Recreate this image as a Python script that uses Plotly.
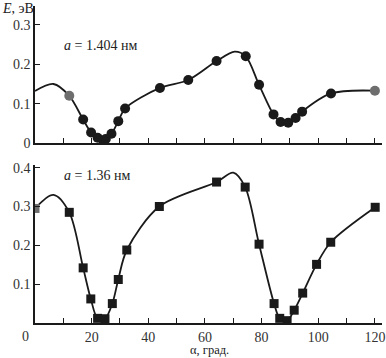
import plotly.graph_objects as go
from plotly.subplots import make_subplots

# ---- data ----
top_x = [12.1, 17.0, 19.8, 22.1, 24.2, 25.0, 27.0, 29.4, 31.8, 44.1, 54.1, 64.1, 74.4,
         79.1, 84.2, 86.7, 89.4, 92.0, 94.3, 104.5, 120.0]
top_y = [0.120, 0.060, 0.027, 0.014, 0.005, 0.011, 0.024, 0.056, 0.088, 0.140, 0.160, 0.208, 0.220,
         0.148, 0.073, 0.054, 0.052, 0.064, 0.080, 0.126, 0.133]
top_curve_extra_x = [0.0, 6.5, 70.5]
top_curve_extra_y = [0.132, 0.150, 0.232]

bot_x = [0.0, 12.1, 17.0, 19.7, 22.1, 24.7, 27.3, 29.4, 32.4, 43.9, 64.1, 74.2, 79.1,
         84.4, 86.4, 89.0, 91.5, 94.5, 99.4, 104.4, 120.1]
bot_y = [0.295, 0.285, 0.142, 0.062, 0.012, 0.011, 0.050, 0.112, 0.188, 0.300, 0.363, 0.350, 0.203,
         0.050, 0.012, 0.006, 0.033, 0.077, 0.151, 0.208, 0.298]
bot_curve_extra_x = [6.5, 70.0]
bot_curve_extra_y = [0.330, 0.387]

top_gray = [0, len(top_x) - 1]
bot_gray = [0]

x_tick_vals = [20, 40, 60, 80, 100, 120]
top_y_ticks = [0, 0.1, 0.2, 0.3]
bot_y_ticks = [0.1, 0.2, 0.3, 0.4]

FONT = "Liberation Serif"
INK = "#1a1a1a"


def merged(xs, ys, ex, ey):
    pts = sorted(list(zip(xs, ys)) + list(zip(ex, ey)))
    return [p[0] for p in pts], [p[1] for p in pts]


fig = make_subplots(rows=2, cols=1, shared_xaxes=False, vertical_spacing=0.0)

cx, cy = merged(top_x, top_y, top_curve_extra_x, top_curve_extra_y)
fig.add_trace(go.Scatter(x=cx, y=cy, mode="lines", line=dict(color=INK, width=1.8, shape="spline", smoothing=0.9),
                         hoverinfo="skip", showlegend=False), row=1, col=1)
fig.add_trace(go.Scatter(x=top_x, y=top_y, mode="markers",
                         marker=dict(symbol="circle", size=10,
                                     color=["#6e6e6e" if i in top_gray else INK for i in range(len(top_x))]),
                         showlegend=False), row=1, col=1)

cx, cy = merged(bot_x, bot_y, bot_curve_extra_x, bot_curve_extra_y)
fig.add_trace(go.Scatter(x=cx, y=cy, mode="lines", line=dict(color=INK, width=1.8, shape="spline", smoothing=0.9),
                         hoverinfo="skip", showlegend=False), row=2, col=1)
fig.add_trace(go.Scatter(x=bot_x, y=bot_y, mode="markers",
                         marker=dict(symbol="square", size=9,
                                     color=["#6e6e6e" if i in bot_gray else INK for i in range(len(bot_x))]),
                         showlegend=False), row=2, col=1)

axis_common = dict(showline=True, linecolor=INK, linewidth=1.5, showgrid=False, zeroline=False,
                   ticks="inside", tickcolor=INK, tickwidth=1.3, ticklen=5,
                   tickfont=dict(family=FONT, size=14, color="#333"))

fig.update_xaxes(range=[0, 122.5], tickvals=list(range(10, 121, 10)), showticklabels=False,
                 **axis_common, row=1, col=1)
fig.update_xaxes(range=[0, 122.5], tickvals=x_tick_vals,
                 minor=dict(tickvals=list(range(10, 121, 20)), ticks="inside", ticklen=5, tickcolor=INK),
                 **axis_common, row=2, col=1)
fig.update_yaxes(range=[0, 0.3475], tickvals=top_y_ticks, ticktext=["0", "0.1", "0.2", "0.3"],
                 domain=[0.5635, 0.9938], **axis_common, row=1, col=1)
fig.update_yaxes(range=[0, 0.407], tickvals=bot_y_ticks, ticktext=["0.1", "0.2", "0.3", "0.4"],
                 domain=[0.0, 0.4954], **axis_common, row=2, col=1)

ann_font = dict(family=FONT, size=14, color="#222")
fig.add_annotation(text="<i>E</i>, эВ", xref="paper", yref="paper", x=-0.1009, y=0.9845,
                   xanchor="left", yanchor="middle", showarrow=False, font=ann_font)
fig.add_annotation(text="<i>a</i> = 1.404 нм", xref="paper", yref="paper", x=0.0778, y=0.870,
                   xanchor="left", yanchor="middle", showarrow=False, font=ann_font)
fig.add_annotation(text="<i>a</i> = 1.36 нм", xref="paper", yref="paper", x=0.0778, y=0.4613,
                   xanchor="left", yanchor="middle", showarrow=False, font=ann_font)
fig.add_annotation(text="α, град.", xref="paper", yref="paper", x=0.504, y=-0.0836,
                   xanchor="center", yanchor="middle", showarrow=False, borderpad=0,
                   font=dict(family=FONT, size=12.5, color="#222"))
fig.add_annotation(text="0", xref="paper", yref="paper", x=-0.0288, y=-0.0433,
                   xanchor="center", yanchor="middle", showarrow=False, font=dict(family=FONT, size=14, color="#333"))

fig.update_layout(width=386, height=358, margin=dict(l=35, r=4, t=0, b=35),
                  plot_bgcolor="white", paper_bgcolor="white", showlegend=False)

fig.write_html("out.html", config={"displayModeBar": False},
               post_script="document.body.style.margin='0';document.body.style.padding='0';"
                           "document.body.style.overflow='hidden';")
